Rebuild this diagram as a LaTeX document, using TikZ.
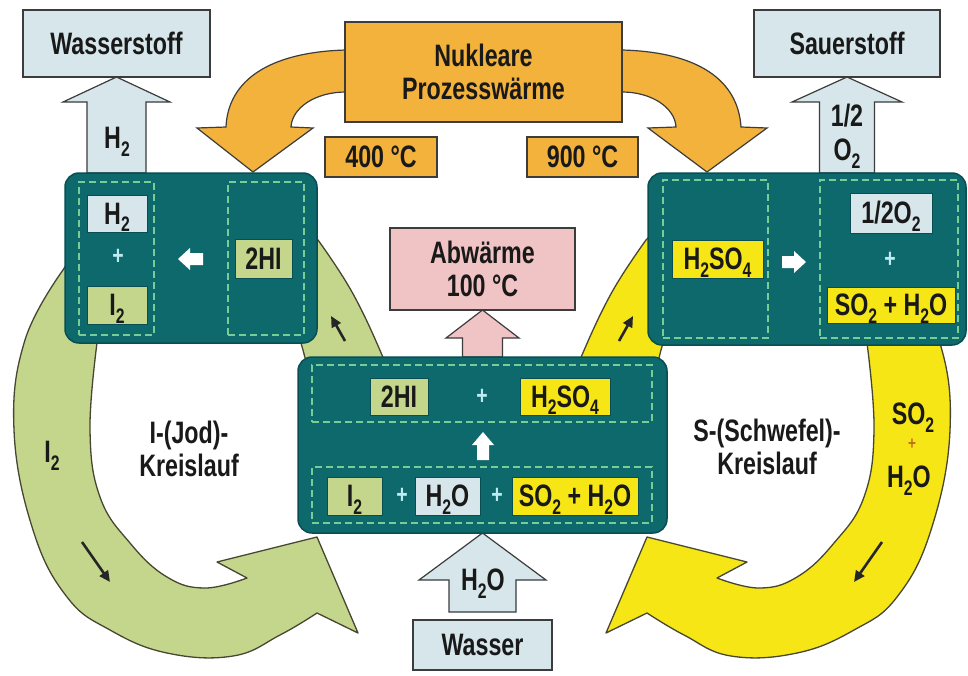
\documentclass[tikz,border=0pt]{standalone}
\usepackage{fontspec}
\newfontfamily\lab{Liberation Sans}[FakeStretch=0.75]
\usetikzlibrary{calc,arrows.meta}
\definecolor{teal1}{RGB}{13,105,108}
\definecolor{teal2}{RGB}{8,78,82}
\definecolor{dashg}{RGB}{120,205,150}
\definecolor{lblue}{RGB}{214,230,235}
\definecolor{lgreen}{RGB}{196,214,140}
\definecolor{yel}{RGB}{246,230,22}
\definecolor{orng}{RGB}{242,178,60}
\definecolor{pnk}{RGB}{240,196,196}
\definecolor{plusc}{RGB}{190,235,242}
\definecolor{plusy}{RGB}{190,110,30}
\definecolor{txt}{RGB}{25,25,25}
\definecolor{edge}{RGB}{60,60,60}
\definecolor{bandedge}{RGB}{70,70,50}
\newcommand\lw[1]{\raisebox{-0.24em}[0pt][0pt]{\fontsize{21}{21}\selectfont #1}}
\pgfdeclarelayer{back}\pgfdeclarelayer{bg}\pgfsetlayers{back,bg,main}
\newcommand\ringpath{(312,385) -- (303,350) .. controls (270,230) and (130,230) .. (97,343) -- plot[smooth,tension=0.7] coordinates {(97,343) (90,430) (100,497) (130,543) (167,577) (205,588) (247,578)} -- (217,562) -- (317,537) -- (358,633) -- (317,613) -- plot[smooth,tension=0.7] coordinates {(317,613) (280,635) (233,656) (167,653) (110,630) (67,597) (33,530) (14,430) (25,340) (63,270)} .. controls (110,190) and (270,190) .. (318,240) -- plot[smooth,tension=0.7] coordinates {(318,240) (352,292) (382,355) (392,385)} -- cycle}
\newcommand\blockarrow[6]{%
  \draw[#1] let \p1=(#2), \p2=(#3) in
   (\x2-#4pt,\y2) -- (\x2-#4pt,\y1-#6pt) -- (\x1-#5pt,\y1-#6pt) -- (\x1,\y1)
   -- (\x1+#5pt,\y1-#6pt) -- (\x2+#4pt,\y1-#6pt) -- (\x2+#4pt,\y2) -- cycle;}
\tikzset{
 lbl/.style={font=\lab\bfseries\fontsize{31}{33}\selectfont, text=txt, align=center, inner sep=0pt, outer sep=0pt},
 boxo/.style={lbl, draw=edge, line width=1.3pt, rectangle},
 tealbox/.style={draw=teal2, fill=teal1, line width=1.5pt, rounded corners=14pt, inner sep=0pt, outer sep=0pt},
 dashrect/.style={draw=dashg, dash pattern=on 7pt off 4pt, line width=1.6pt, inner sep=0pt, outer sep=0pt},
 chem/.style={lbl, draw=teal2, line width=0.8pt},
 plusmark/.style={font=\lab\bfseries\fontsize{26}{26}\selectfont, text=plusc, inner sep=0pt},
 bandline/.style={draw=bandedge, line width=1.3pt, line join=round},
 arrfill/.style={draw=edge, line width=1.2pt, line join=miter},
 smallarr/.style={line width=2.6pt, draw=black!85, -{Triangle[length=11pt,width=10pt]}},
}
\begin{document}
\begin{tikzpicture}[x=1pt,y=-1pt]
\useasboundingbox (0,0) rectangle (968,675);
\begin{pgfonlayer}{back}\fill[white] (0,0) rectangle (968,675);\end{pgfonlayer}
% boxes
\node[boxo, fill=lblue, minimum width=187, minimum height=67] (wst) at (116.5,43.5) {Wasserstoff};
\node[boxo, fill=lblue, minimum width=186, minimum height=67] (sst) at (847,43.5) {Sauerstoff};
\node[boxo, fill=orng, minimum width=277, minimum height=100] (nuc) at (483.5,72) {Nukleare\\Prozesswärme};
\node[boxo, fill=orng, minimum width=112, minimum height=40] (t400) at (381,157) {400 °C};
\node[boxo, fill=orng, minimum width=111, minimum height=40] (t900) at (582.5,157) {900 °C};
\node[boxo, fill=pnk, minimum width=185, minimum height=82] (abw) at (482.5,269) {Abwärme\\100 °C};
\node[boxo, fill=lblue, minimum width=139, minimum height=50] (wasser) at (482.5,645) {Wasser};
\node[tealbox, minimum width=252, minimum height=170] (lbox) at (191,258) {};
\node[tealbox, minimum width=318, minimum height=172] (rbox) at (807,259) {};
\node[tealbox, minimum width=369, minimum height=176] (cbox) at (482.5,445) {};
% dashed frames
\node[dashrect, minimum width=75, minimum height=153] (ld1) at (116.5,258.5) {};
\node[dashrect, minimum width=76, minimum height=153] (ld2) at (266,258.5) {};
\node[dashrect, minimum width=105, minimum height=158] (rd1) at (715.5,259) {};
\node[dashrect, minimum width=138, minimum height=158] (rd2) at (889,259) {};
\node[dashrect, minimum width=340, minimum height=57] (cd1) at (482,393.5) {};
\node[dashrect, minimum width=340, minimum height=56] (cd2) at (482,495) {};
% chemical labels
\node[chem, fill=lblue, minimum width=60, minimum height=37] (lh2) at (117,213.5) {H\lw{2}};
\node[chem, fill=lgreen, minimum width=60, minimum height=38] (li2) at (117,305) {I\lw{2}};
\node[chem, fill=lgreen, minimum width=57, minimum height=39] (l2hi) at (263.5,258.5) {2HI};
\node[chem, fill=yel, minimum width=91, minimum height=38] (rh2so4) at (717.5,259) {H\lw{2}SO\lw{4}};
\node[chem, fill=lblue, minimum width=82, minimum height=40] (ro2) at (891,213) {1/2O\lw{2}};
\node[chem, fill=yel, minimum width=128, minimum height=36] (rso2) at (891,305) {SO\lw{2} + H\lw{2}O};
\node[chem, fill=lgreen, minimum width=58, minimum height=37] (c2hi) at (399,396.5) {2HI};
\node[chem, fill=yel, minimum width=90, minimum height=37] (ch2so4) at (565,396.5) {H\lw{2}SO\lw{4}};
\node[chem, fill=lgreen, minimum width=55, minimum height=38] (ci2) at (354.5,496) {I\lw{2}};
\node[chem, fill=lblue, minimum width=65, minimum height=38] (ch2o) at (447.5,496) {H\lw{2}O};
\node[chem, fill=yel, minimum width=126, minimum height=38] (cso2) at (575,496) {SO\lw{2} + H\lw{2}O};
% plus signs
\node[plusmark] (pl1) at (118,257) {+};
\node[plusmark] (pl2) at (482,397) {+};
\node[plusmark] (pl3) at (402,496) {+};
\node[plusmark] (pl4) at (497,496) {+};
\node[plusmark] (pl5) at (890,260) {+};
% white reaction arrows
\fill[white] (178,259) -- (190,248) -- (190,253) -- (203,253) -- (203,265) -- (190,265) -- (190,270) -- cycle;
\fill[white] (806,262) -- (794,251) -- (794,256) -- (782,256) -- (782,268) -- (794,268) -- (794,273) -- cycle;
\fill[white] (483,432) -- (472,445) -- (477,445) -- (477,460) -- (489,460) -- (489,445) -- (494,445) -- cycle;
% cycle texts
\node[lbl] (ti2) at (52,452) {I\lw{2}};
\node[lbl] (tjod) at (189,449) {I-(Jod)-\\Kreislauf};
\node[lbl] (tsch) at (767,447) {S-(Schwefel)-\\Kreislauf};
\node[lbl] (tso2) at (913,414) {SO\lw{2}};
\node[lbl, font=\lab\bfseries\fontsize{18}{18}\selectfont, text=plusy] (tpl) at (912,444) {+};
\node[lbl] (th2o) at (909,477) {H\lw{2}O};
% arrow labels
\node[lbl] (ah2) at (117,138) {H\lw{2}};
\node[lbl] (ahalf) at (847,116) {1/2};
\node[lbl] (ao2) at (847,150) {O\lw{2}};
\node[lbl] (awat) at (483,580) {H\lw{2}O};
% small direction arrows
\draw[smallarr] (345,341) -- (331,316);
\draw[smallarr] (82,542) -- (110,582);
\draw[smallarr] (619,341) -- (633,316);
\draw[smallarr] (882,542) -- (854,582);
% background shapes
\begin{pgfonlayer}{bg}
\draw[arrfill, fill=orng] (346,50) .. controls (270,52) and (228,80) .. (226,127) -- (197,128) -- (253,172) -- (313,128) -- (291,127) .. controls (292,108) and (315,92) .. (346,92) -- cycle;
\draw[arrfill, fill=orng] (622,50) .. controls (698,52) and (738,80) .. (741,127) -- (767,128) -- (707,172) -- (648,128) -- (676,127) .. controls (675,108) and (652,92) .. (622,92) -- cycle;
\draw[bandline, fill=lgreen] \ringpath;
\begin{scope}[shift={(964,0)},xscale=-1]
\draw[bandline, fill=yel] \ringpath;
\end{scope}
\blockarrow{arrfill, fill=lblue}{wst.south}{wst.south |- lbox.north}{29.5}{53.5}{25}
\blockarrow{arrfill, fill=lblue}{sst.south}{sst.south |- rbox.north}{27.5}{55}{25}
\blockarrow{arrfill, fill=pnk}{abw.south}{abw.south |- cbox.north}{20}{36.5}{28}
\blockarrow{arrfill, fill=lblue}{wasser.north |- cbox.south}{$(wasser.north)+(0,-8)$}{33.5}{63.5}{47}
\end{pgfonlayer}
\end{tikzpicture}
\end{document}
